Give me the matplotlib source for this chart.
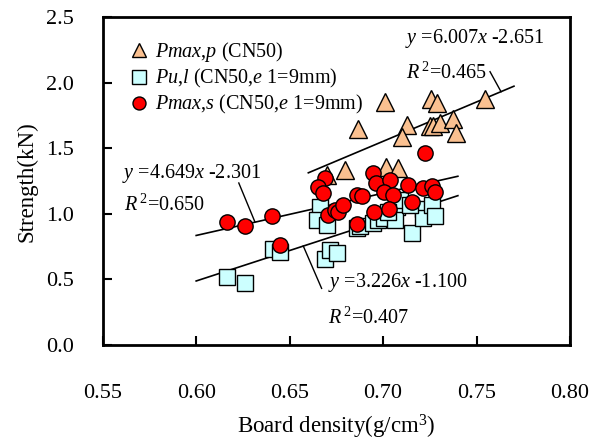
import matplotlib
matplotlib.use('Agg')
import matplotlib.pyplot as plt
import numpy as np

plt.rcParams['font.family'] = ['Liberation Serif', 'DejaVu Serif']
plt.rcParams['mathtext.fontset'] = 'custom'
plt.rcParams['mathtext.rm'] = 'Liberation Serif'
plt.rcParams['mathtext.it'] = 'Liberation Serif:italic'

# Pmax,p (CN50)
px_dens = [0.7010, 0.7256, 0.7286, 0.7544, 0.6864, 0.7129, 0.7250, 0.7268,
           0.7304, 0.7372, 0.7388, 0.7099, 0.6796, 0.7015, 0.7081, 0.6698]
px_str = [1.856, 1.874, 1.844, 1.874, 1.645, 1.678, 1.670, 1.670,
          1.696, 1.724, 1.615, 1.589, 1.335, 1.355, 1.352, 1.297]

# Pu,l (CN50, e1=9mm)
pu_dens = [0.6166, 0.6261, 0.6409, 0.6448, 0.6662, 0.6646, 0.6698, 0.6689,
           0.6715, 0.6753, 0.6858, 0.6876, 0.6947, 0.6972, 0.7004, 0.7072,
           0.7090, 0.7063, 0.7152, 0.7214, 0.7214, 0.7259, 0.7277, 0.7026, 0.7143]
pu_str = [0.521, 0.471, 0.732, 0.709, 1.053, 0.953, 0.915, 0.656,
          0.725, 0.702, 0.890, 0.908, 0.928, 0.953, 0.969, 1.055,
          1.106, 0.953, 0.857, 1.035, 0.969, 1.068, 0.984, 1.014, 1.068]

# Pmax,s (CN50, e1=9mm)
ps_dens = [0.6163, 0.6261, 0.6404, 0.6448, 0.6689, 0.6653, 0.6680, 0.6706,
           0.6742, 0.6760, 0.6787, 0.6858, 0.6885, 0.6858, 0.6947, 0.6962,
           0.7036, 0.7004, 0.7054, 0.6951, 0.7033, 0.7134, 0.7152, 0.7214,
           0.7259, 0.7277, 0.7224]
ps_str = [0.941, 0.908, 0.984, 0.763, 1.272, 1.207, 1.157, 0.992,
          1.030, 1.017, 1.068, 1.144, 1.137, 0.923, 1.310, 1.238,
          1.259, 1.169, 1.144, 1.017, 1.037, 1.220, 1.093, 1.195,
          1.213, 1.169, 1.467]

# fitted lines: slope, intercept, x range
fit_slope = [6.007, 3.226, 4.649]
fit_icpt = [-2.651, -1.100, -2.301]
fit_x0 = [0.66, 0.60, 0.60]
fit_x1 = [0.77, 0.74, 0.74]

fig = plt.figure(figsize=(5.92, 4.48), dpi=100)
ax = fig.add_axes([0.1735, 0.2299, 0.7894, 0.7315])

ax.plot(px_dens, px_str, '^', ms=12.5, mfc='#FAC090', mec='black', mew=1.0,
        ls='none', zorder=3, label=r'$\mathit{Pmax{,}p}$ (CN50)')
ax.plot(pu_dens, pu_str, 's', ms=11.5, mfc='#CCFFFF', mec='black', mew=1.0,
        ls='none', zorder=4, label=r'$\mathit{Pu{,}l}$ (CN50,$\mathit{e}$ 1=9mm)')
ax.plot(ps_dens, ps_str, 'o', ms=11, mfc='#FF0000', mec='black', mew=1.0,
        ls='none', zorder=5, label=r'$\mathit{Pmax{,}s}$ (CN50,$\mathit{e}$ 1=9mm)')

for k, b, a0, a1 in zip(fit_slope, fit_icpt, fit_x0, fit_x1):
    xx = np.array([a0, a1])
    ax.plot(xx, k * xx + b, color='black', lw=1.2, zorder=2)

# equation labels and leader lines
fs = 14.5
ax.text(0.7117, 2.342, r'$\mathit{y}$ =6.007$\mathit{x}$ -2.651', fontsize=fs, va='center')
ax.text(0.7120, 2.075, r'$\mathit{R}^{\,2}$=0.465', fontsize=fs, va='center')
ax.text(0.5603, 1.312, r'$\mathit{y}$ =4.649$\mathit{x}$ -2.301', fontsize=fs, va='center')
ax.text(0.5614, 1.068, r'$\mathit{R}^{\,2}$=0.650', fontsize=fs, va='center')
ax.text(0.6705, 0.475, r'$\mathit{y}$ =3.226$\mathit{x}$ -1.100', fontsize=fs, va='center')
ax.text(0.6705, 0.208, r'$\mathit{R}^{\,2}$=0.407', fontsize=fs, va='center')
ax.plot([0.7572, 0.7631], [2.085, 1.932], color='black', lw=1.0)
ax.plot([0.6228, 0.6314], [1.236, 0.940], color='black', lw=1.0)
ax.plot([0.6573, 0.6671], [0.755, 0.432], color='black', lw=1.0)

ax.set_xlim(0.55, 0.80)
ax.set_ylim(0.0, 2.5)
ax.set_xticks(np.arange(0.55, 0.801, 0.05))
ax.set_yticks(np.arange(0.0, 2.51, 0.5))
ax.set_xticklabels(['%.2f' % v for v in np.arange(0.55, 0.801, 0.05)])
ax.set_yticklabels(['%.1f' % v for v in np.arange(0.0, 2.51, 0.5)])
ax.tick_params(axis='both', direction='in', length=6.5, width=1.5, labelsize=16)
ax.tick_params(axis='x', pad=28)
ax.tick_params(axis='y', pad=21)
for s in ax.spines.values():
    s.set_linewidth(2.0)

ax.set_xlabel('Board density(g/cm$^3$)', fontsize=16.5, labelpad=7)
ax.set_ylabel('Strength(kN)', fontsize=16.5, labelpad=6)

ax.legend(loc='upper left', bbox_to_anchor=(0.035, 0.967), frameon=False,
          fontsize=14.5, handlelength=0.8, handletextpad=0.4, markerscale=0.85,
          labelspacing=0.15, borderaxespad=0.2)

plt.savefig('out.png', dpi=100)
